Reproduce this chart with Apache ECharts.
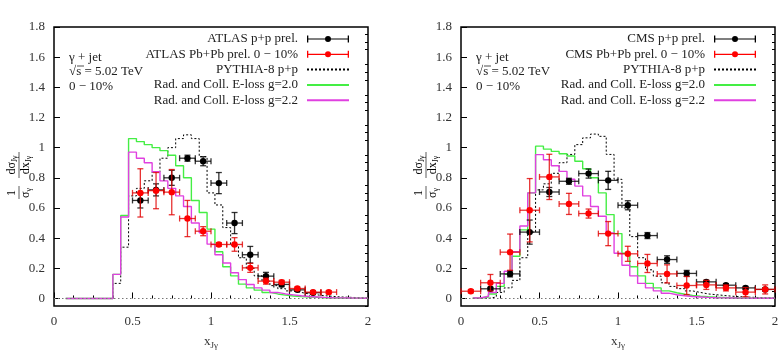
<!DOCTYPE html>
<html>
<head>
<meta charset="utf-8">
<script src="https://cdn.jsdelivr.net/npm/echarts@6/dist/echarts.min.js"></script>
<style>
html, body { margin: 0; padding: 0; background: #fff; }
#main { width: 784px; height: 350px; }
</style>
</head>
<body>
<div id="main"></div>
<script>
// histogram bin centres (bin width 0.05)
var binCenters = [0.10,0.15,0.20,0.25,0.30,0.35,0.40,0.45,0.50,0.55,0.60,0.65,0.70,0.75,0.80,0.85,0.90,0.95,1.00,1.05,
                  1.10,1.15,1.20,1.25,1.30,1.35,1.40,1.45,1.50,1.55,1.60,1.65,1.70,1.75,1.80,1.85,1.90,1.95];

// left panel (ATLAS)
var atlasPythia = [0,0,0,0,0,0, 0.10,0.34,0.68,0.73,0.78,0.84,0.93,1.0,1.06,1.085, 1.06,0.94,0.70,0.62,0.47,0.35,0.27,0.20,0.15,0.115,
                   0.085,0.065,0.05,0.04,0.03,0.024,0.018,0.014,0.01,0.008, 0.006,0.004];
var atlasG20 = [0,0,0,0,0,0, 0.16,0.55,1.06,1.04,1.02,1.0,0.98,0.95,0.88,0.80, 0.65,0.57,0.46,0.31,0.21,0.15,0.095,0.07,0.055,0.04,
                0.03,0.022,0.016,0.012,0.009,0.007,0.005,0.004,0.003,0.002, 0.002,0.001];
var atlasG22 = [0,0,0,0,0,0, 0.16,0.54,0.97,0.93,0.90,0.84,0.78,0.73,0.68,0.61, 0.50,0.435,0.36,0.29,0.235,0.17,0.125,0.093,0.07,0.055,
                0.04,0.03,0.024,0.018,0.013,0.01,0.007,0.005,0.004,0.003, 0.002,0.001];

var atlasPPx  = [0.55,0.65,0.75,0.85,0.95,1.05,1.15,1.25,1.35,1.45,1.55,1.65];
var atlasPPy  = [0.65,0.72,0.80,0.93,0.91,0.765,0.50,0.29,0.148,0.093,0.057,0.038];
var atlasPPey = [0.05,0.04,0.05,0.02,0.03,0.07,0.07,0.055,0.025,0.015,0.01,0.008];
var atlasAAx  = [0.55,0.65,0.75,0.85,0.95,1.05,1.15,1.25,1.35,1.45,1.55,1.65,1.75];
var atlasAAy  = [0.70,0.715,0.705,0.53,0.446,0.358,0.358,0.203,0.115,0.108,0.066,0.042,0.042];
var atlasAAey = [0.16,0.12,0.15,0.12,0.03,0.012,0.045,0.03,0.02,0.012,0.01,0.008,0.01];
var atlasXerr = 0.05;

// right panel (CMS)
var cmsPythia = [0,0,0.01,0.04,0.07,0.12, 0.27,0.44,0.72,0.76,0.83,0.90,0.955,1.02,1.065,1.09, 1.075,0.955,0.79,0.60,0.41,0.27,0.19,0.148,0.104,0.08,
                 0.065,0.05,0.04,0.03,0.025,0.02,0.015,0.012,0.009,0.007, 0.005,0.004];
var cmsG20 = [0.003,0.01,0.03,0.08,0.16,0.28, 0.455,0.70,1.01,0.99,0.975,0.96,0.945,0.91,0.86,0.80, 0.70,0.556,0.43,0.30,0.21,0.15,0.10,0.07,0.05,0.038,
              0.028,0.02,0.015,0.011,0.008,0.006,0.004,0.003,0.002,0.002, 0.001,0.001];
var cmsG22 = [0.003,0.015,0.04,0.10,0.18,0.31, 0.48,0.70,0.954,0.92,0.88,0.843,0.79,0.745,0.68,0.61, 0.545,0.435,0.30,0.22,0.15,0.10,0.07,0.05,0.035,0.025,
              0.018,0.013,0.01,0.007,0.005,0.004,0.003,0.002,0.002,0.001, 0.001,0.001];

var cmsPPx  = [0.1875,0.3125,0.4375,0.5625,0.6875,0.8125,0.9375,1.0625,1.1875,1.3125,1.4375,1.5625,1.6875,1.8125,1.9375];
var cmsPPy  = [0.064,0.163,0.44,0.706,0.777,0.828,0.783,0.618,0.417,0.258,0.166,0.11,0.088,0.07,0.06];
var cmsPPey = [0.01,0.02,0.08,0.03,0.02,0.03,0.06,0.03,0.02,0.025,0.02,0.01,0.01,0.01,0.01];
var cmsAAx  = [0.0625,0.1875,0.3125,0.4375,0.5625,0.6875,0.8125,0.9375,1.0625,1.1875,1.3125,1.4375,1.5625,1.6875,1.8125,1.9375];
var cmsAAy  = [0.048,0.104,0.307,0.585,0.806,0.627,0.563,0.43,0.296,0.232,0.163,0.086,0.09,0.07,0.042,0.06];
var cmsAAey = [0.01,0.055,0.12,0.21,0.15,0.07,0.03,0.08,0.05,0.06,0.06,0.06,0.03,0.02,0.03,0.03];
var cmsXerr = 0.0625;

var yMajor = [0,0.2,0.4,0.6,0.8,1,1.2,1.4,1.6,1.8];

var FONT = 'Liberation Serif';
var HALF = 0.025;

var yMinor = [];
for (var k = -1; k <= 36; k++) {
    if (k % 4 !== 0) yMinor.push(k * 0.05);
}

function histPoints(vals) {
    var pts = [];
    for (var i = 0; i < binCenters.length; i++) pts.push([binCenters[i] - HALF, vals[i]]);
    pts.push([2, vals[vals.length - 1]]);
    return pts;
}

function errPoints(xs, ys, eys, ex) {
    var out = [];
    for (var i = 0; i < xs.length; i++) out.push([xs[i], ys[i], ex, eys[i]]);
    return out;
}

function errRender(barColor) {
    return function (params, api) {
        var x = api.value(0), y = api.value(1), ex = api.value(2), ey = api.value(3);
        var c = api.coord([x, y]);
        var l = api.coord([x - ex, y]);
        var r = api.coord([x + ex, y]);
        var t = api.coord([x, y + ey]);
        var b = api.coord([x, y - ey]);
        var st = { stroke: barColor, lineWidth: 1.3 };
        var cap = 3;
        return {
            type: 'group',
            children: [
                { type: 'line', shape: { x1: l[0], y1: l[1], x2: r[0], y2: r[1] }, style: st },
                { type: 'line', shape: { x1: l[0], y1: l[1] - cap, x2: l[0], y2: l[1] + cap }, style: st },
                { type: 'line', shape: { x1: r[0], y1: r[1] - cap, x2: r[0], y2: r[1] + cap }, style: st },
                { type: 'line', shape: { x1: t[0], y1: t[1], x2: b[0], y2: b[1] }, style: st },
                { type: 'line', shape: { x1: t[0] - cap, y1: t[1], x2: t[0] + cap, y2: t[1] }, style: st },
                { type: 'line', shape: { x1: b[0] - cap, y1: b[1], x2: b[0] + cap, y2: b[1] }, style: st },
                { type: 'circle', shape: { cx: c[0], cy: c[1], r: 3.2 }, style: { fill: api.visual('color') } }
            ]
        };
    };
}

var errIcon = 'path://M0,4.4L42,4.4L42,5.6L0,5.6Z M0,1.5L1.3,1.5L1.3,8.5L0,8.5Z M40.7,1.5L42,1.5L42,8.5L40.7,8.5Z M24,5A3,3 0 1,1 18,5A3,3 0 1,1 24,5Z';

var N_PYTHIA = 'PYTHIA-8 p+p';
var N_G20 = 'Rad. and Coll. E-loss g=2.0';
var N_G22 = 'Rad. and Coll. E-loss g=2.2';

function histSeries(name, vals, idx, color, dashed) {
    var s = {
        name: name, type: 'line', step: 'end',
        xAxisIndex: idx, yAxisIndex: idx * 2,
        data: histPoints(vals), symbol: 'none', silent: true,
        itemStyle: { color: color },
        lineStyle: { color: color, width: dashed ? 1 : 1.4, type: dashed ? [2, 2] : 'solid' },
        z: 3
    };
    if (dashed) {
        s.markLine = {
            silent: true, symbol: 'none', label: { show: false },
            lineStyle: { color: '#777', type: [1.5, 2.5], width: 1 },
            data: [{ yAxis: 0 }]
        };
    }
    return s;
}

function errSeries(name, xs, ys, eys, ex, idx, color, barColor) {
    return {
        name: name, type: 'custom',
        xAxisIndex: idx, yAxisIndex: idx * 2,
        data: errPoints(xs, ys, eys, ex),
        encode: { x: 0, y: 1 },
        itemStyle: { color: color },
        renderItem: errRender(barColor),
        z: 5
    };
}

function xAxisDef(idx) {
    return {
        type: 'value', gridIndex: idx, min: 0, max: 2, interval: 0.5,
        axisLine: { show: false },
        axisTick: { inside: true, length: 6, lineStyle: { color: '#000' } },
        minorTick: { show: true, splitNumber: 4, length: 3, lineStyle: { color: '#000' } },
        splitLine: { show: false },
        axisLabel: { margin: 9, fontFamily: FONT, fontSize: 13, color: '#333',
            formatter: function (v) { return String(v); } },
        name: '{a|x}{s|Jγ}', nameLocation: 'middle', nameGap: 28,
        nameTextStyle: { rich: {
            a: { fontFamily: FONT, fontSize: 13, color: '#333' },
            s: { fontFamily: FONT, fontSize: 9, color: '#333', padding: [7, 0, 0, 0] }
        } }
    };
}

function yAxesDef(idx) {
    return [{
        type: 'value', gridIndex: idx, min: -0.05, max: 1.8,
        axisLine: { show: false },
        splitLine: { show: false },
        axisTick: { inside: true, length: 6, customValues: yMajor, lineStyle: { color: '#000' } },
        axisLabel: { margin: 9, fontFamily: FONT, fontSize: 13, color: '#333', customValues: yMajor,
            formatter: function (v) { return String(Math.round(v * 10) / 10); } }
    }, {
        type: 'value', gridIndex: idx, min: -0.05, max: 1.8,
        axisLine: { show: false },
        splitLine: { show: false },
        axisLabel: { show: false, customValues: [] },
        axisTick: { inside: true, length: 3, customValues: yMinor, lineStyle: { color: '#000' } }
    }];
}

var subRich = {
    n: { fontFamily: FONT, fontSize: 12, color: '#333' },
    s: { fontFamily: FONT, fontSize: 8, color: '#333', padding: [6, 0, 0, 0] }
};

function yTitle(x, y) {
    var t = function (txt, px, py) {
        return { type: 'text', x: px, y: py,
            style: { text: txt, rich: subRich, align: 'center', verticalAlign: 'middle' } };
    };
    return {
        type: 'group', x: x, y: y, rotation: Math.PI / 2,
        children: [
            t('{n|1}', -21, -7),
            { type: 'line', shape: { x1: -27, y1: 0, x2: -14, y2: 0 }, style: { stroke: '#333', lineWidth: 0.8 } },
            t('{n|σ}{s|γ}', -21, 7),
            t('{n|dσ}{s|Jγ}', 7, -7),
            { type: 'line', shape: { x1: -6, y1: 0, x2: 20, y2: 0 }, style: { stroke: '#333', lineWidth: 0.8 } },
            t('{n|dx}{s|Jγ}', 7, 7)
        ]
    };
}

function infoText(x) {
    var st = function (txt, top) {
        return { type: 'text', left: x, top: top, style: { text: txt, fontFamily: FONT, fontSize: 13, fill: '#222' } };
    };
    return [
        st('γ + jet', 51),
        st('√s = 5.02 TeV', 65),
        { type: 'line', shape: { x1: x + 8, y1: 66, x2: x + 15, y2: 66 }, style: { stroke: '#222', lineWidth: 0.8 } },
        st('0 − 10%', 80)
    ];
}

function legendDef(rightPx, ppName, aaName) {
    var lineItem = function (n) {
        return { name: n, itemStyle: { opacity: 0 } };
    };
    return {
        right: rightPx, top: 32, orient: 'vertical', align: 'right',
        padding: 0, itemGap: 1.3, itemWidth: 42, itemHeight: 10,
        selectedMode: false,
        textStyle: { fontFamily: FONT, fontSize: 13, color: '#222', lineHeight: 14, padding: [0, 4, 0, 0] },
        data: [
            { name: ppName, icon: errIcon },
            { name: aaName, icon: errIcon },
            lineItem(N_PYTHIA),
            lineItem(N_G20),
            lineItem(N_G22)
        ]
    };
}

var chart = echarts.init(document.getElementById('main'));
var option = {
    animation: false,
    backgroundColor: '#fff',
    grid: [
        { left: 54, top: 27, width: 314, height: 279, outerBoundsMode: 'none', containLabel: false,
          show: true, borderColor: '#000', borderWidth: 1.5, backgroundColor: 'transparent' },
        { left: 461, top: 27, width: 314, height: 279, outerBoundsMode: 'none', containLabel: false,
          show: true, borderColor: '#000', borderWidth: 1.5, backgroundColor: 'transparent' }
    ],
    xAxis: [xAxisDef(0), xAxisDef(1)],
    yAxis: yAxesDef(0).concat(yAxesDef(1)),
    legend: [
        legendDef(434, 'ATLAS p+p prel.', 'ATLAS Pb+Pb prel. 0 − 10%'),
        legendDef(27, 'CMS p+p prel.', 'CMS Pb+Pb prel. 0 − 10%')
    ],
    graphic: [yTitle(19, 172), yTitle(426, 172)].concat(infoText(69)).concat(infoText(476)),
    series: [
        histSeries(N_PYTHIA, atlasPythia, 0, '#000', true),
        histSeries(N_G20, atlasG20, 0, '#44ee44', false),
        histSeries(N_G22, atlasG22, 0, '#e040e0', false),
        errSeries('ATLAS p+p prel.', atlasPPx, atlasPPy, atlasPPey, atlasXerr, 0, '#000', 'rgba(0,0,0,0.8)'),
        errSeries('ATLAS Pb+Pb prel. 0 − 10%', atlasAAx, atlasAAy, atlasAAey, atlasXerr, 0, '#ff0000', 'rgba(225,0,0,0.8)'),

        histSeries(N_PYTHIA, cmsPythia, 1, '#000', true),
        histSeries(N_G20, cmsG20, 1, '#44ee44', false),
        histSeries(N_G22, cmsG22, 1, '#e040e0', false),
        errSeries('CMS p+p prel.', cmsPPx, cmsPPy, cmsPPey, cmsXerr, 1, '#000', 'rgba(0,0,0,0.8)'),
        errSeries('CMS Pb+Pb prel. 0 − 10%', cmsAAx, cmsAAy, cmsAAey, cmsXerr, 1, '#ff0000', 'rgba(225,0,0,0.8)')
    ]
};
chart.setOption(option);
</script>
</body>
</html>
